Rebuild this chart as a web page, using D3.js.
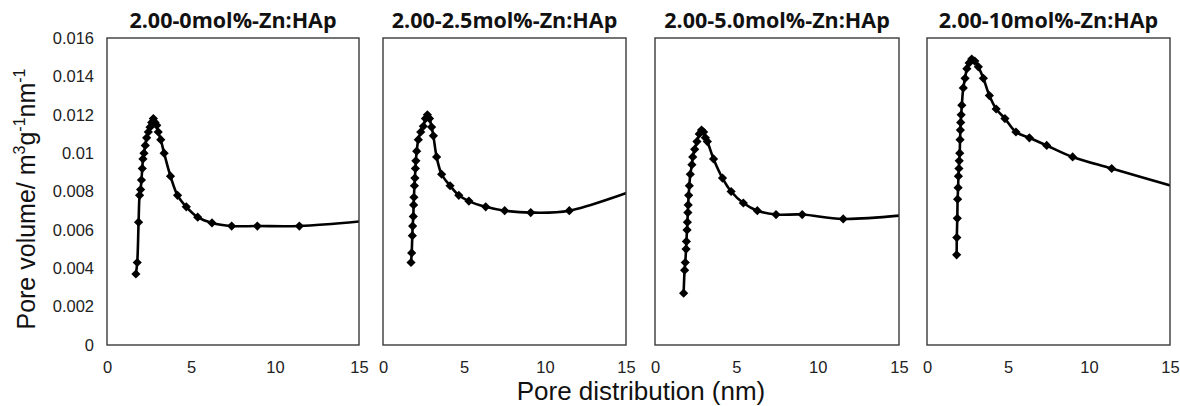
<!DOCTYPE html>
<html>
<head>
<meta charset="utf-8">
<script src="https://cdn.jsdelivr.net/npm/d3@7"></script>
<style>
  html, body { margin: 0; padding: 0; background: #fff; }
  svg { display: block; }
</style>
</head>
<body>
<svg id="chart" width="1180" height="406"></svg>
<script>
// ---------------- DATA ----------------
const panelTitles = ["2.00-0mol%-Zn:HAp", "2.00-2.5mol%-Zn:HAp", "2.00-5.0mol%-Zn:HAp", "2.00-10mol%-Zn:HAp"];

const xTicks = [0, 5, 10, 15];
const yTicks = [0, 0.002, 0.004, 0.006, 0.008, 0.01, 0.012, 0.014, 0.016];
const yTickLabels = ["0", "0.002", "0.004", "0.006", "0.008", "0.01", "0.012", "0.014", "0.016"];

const x0 = [1.72, 1.80, 1.88, 1.94, 2.00, 2.05, 2.10, 2.14, 2.20, 2.28, 2.36, 2.46, 2.56, 2.66, 2.76, 2.86, 2.96, 3.05, 3.20, 3.40, 3.78, 4.20, 4.72, 5.40, 6.25, 7.42, 8.95, 11.45, 15.8];
const y0 = [0.0037, 0.0043, 0.0064, 0.0078, 0.0081, 0.0086, 0.0092, 0.0097, 0.0100, 0.0104, 0.0108, 0.0111, 0.01135, 0.0116, 0.0118, 0.0116, 0.01145, 0.0111, 0.0107, 0.0100, 0.0088, 0.0078, 0.0072, 0.00666, 0.00636, 0.0062, 0.0062, 0.0062, 0.0065];

const x25 = [1.73, 1.77, 1.81, 1.83, 1.87, 1.89, 1.91, 1.94, 1.97, 2.00, 2.03, 2.08, 2.18, 2.33, 2.49, 2.62, 2.74, 2.87, 3.00, 3.11, 3.31, 3.62, 4.14, 4.68, 5.30, 6.34, 7.51, 9.12, 11.5, 15.6];
const y25 = [0.0043, 0.0048, 0.0057, 0.0062, 0.0067, 0.0073, 0.0077, 0.0083, 0.0087, 0.0092, 0.0096, 0.0101, 0.0107, 0.0111, 0.0114, 0.0118, 0.0120, 0.0118, 0.01136, 0.0109, 0.0098, 0.0089, 0.0083, 0.0078, 0.0075, 0.0072, 0.0070, 0.0069, 0.0070, 0.0081];

const x50 = [1.76, 1.82, 1.86, 1.91, 1.93, 1.97, 1.99, 2.02, 2.04, 2.07, 2.11, 2.17, 2.27, 2.32, 2.44, 2.58, 2.72, 2.86, 2.99, 3.10, 3.22, 3.60, 4.15, 4.68, 5.43, 6.29, 7.44, 9.05, 11.57, 15.7];
const y50 = [0.0027, 0.0039, 0.0043, 0.0050, 0.0054, 0.0060, 0.0064, 0.0069, 0.0073, 0.0078, 0.0083, 0.0089, 0.0094, 0.0098, 0.0102, 0.0106, 0.0110, 0.0112, 0.0111, 0.0108, 0.0106, 0.0097, 0.0087, 0.0080, 0.0074, 0.0070, 0.0068, 0.0068, 0.00657, 0.0068];

const x100 = [1.83, 1.84, 1.87, 1.89, 1.92, 1.94, 1.97, 1.99, 2.02, 2.04, 2.06, 2.08, 2.11, 2.15, 2.24, 2.35, 2.46, 2.60, 2.76, 2.95, 3.17, 3.48, 3.85, 4.27, 4.81, 5.49, 6.32, 7.39, 8.99, 11.4, 15.5];
const y100 = [0.0047, 0.0056, 0.0066, 0.0076, 0.0082, 0.0088, 0.0092, 0.0096, 0.0100, 0.0107, 0.0112, 0.0116, 0.0120, 0.0125, 0.0134, 0.0139, 0.0144, 0.0147, 0.0149, 0.0148, 0.0145, 0.0139, 0.0130, 0.0123, 0.0118, 0.0111, 0.0108, 0.0104, 0.0098, 0.0092, 0.0082];

const seriesX = [x0, x25, x50, x100];
const seriesY = [y0, y25, y50, y100];

const yAxisTitle = "Pore volume/ m";
const xAxisTitle = "Pore distribution (nm)";

// ---------------- LAYOUT ----------------
const svg = d3.select("#chart");
const panelBox = [
  {l: 107, r: 359},
  {l: 383, r: 626},
  {l: 655, r: 899},
  {l: 927, r: 1170}
];
const plotTop = 38, plotBottom = 345;
const tickFont = "'Liberation Sans', Arial, sans-serif";

const y = d3.scaleLinear().domain([0, 0.016]).range([plotBottom, plotTop]);

// Y axis (only left panel)
const yAxis = d3.axisLeft(y).tickValues(yTicks).tickSize(0).tickPadding(13)
  .tickFormat((d, i) => yTickLabels[i]);
const yg = svg.append("g").attr("transform", `translate(${panelBox[0].l},0)`).call(yAxis);
yg.select(".domain").remove();
yg.selectAll("text").attr("font-family", tickFont).attr("font-size", 16.5).attr("fill", "#222");

const diamond = "M0,-4.6L4.6,0L0,4.6L-4.6,0Z";

panelBox.forEach((b, i) => {
  const x = d3.scaleLinear().domain([0, 15]).range([b.l, b.r]);
  const g = svg.append("g");

  // x axis labels
  const xAxis = d3.axisBottom(x).tickValues(xTicks).tickSize(0).tickPadding(16).tickFormat(d3.format("d"));
  const xg = g.append("g").attr("transform", `translate(0,${plotBottom})`).call(xAxis);
  xg.select(".domain").remove();
  xg.selectAll("text").attr("font-family", tickFont).attr("font-size", 16.5).attr("fill", "#222");

  // clip
  const cid = "clip" + i;
  svg.append("clipPath").attr("id", cid).append("rect")
    .attr("x", b.l).attr("y", plotTop).attr("width", b.r - b.l).attr("height", plotBottom - plotTop);

  const pts = seriesX[i].map((xv, k) => [xv, seriesY[i][k]]);
  const line = d3.line().x(d => x(d[0])).y(d => y(d[1])).curve(d3.curveCatmullRom.alpha(0.5));

  const plot = g.append("g").attr("clip-path", `url(#${cid})`);
  plot.append("path").datum(pts).attr("d", line)
    .attr("fill", "none").attr("stroke", "#000").attr("stroke-width", 2.6);
  plot.selectAll("path.m").data(pts).enter().append("path").attr("class", "m")
    .attr("d", diamond)
    .attr("transform", d => `translate(${x(d[0])},${y(d[1])})`)
    .attr("fill", "#000");

  // frame
  g.append("rect").attr("x", b.l).attr("y", plotTop).attr("width", b.r - b.l).attr("height", plotBottom - plotTop)
    .attr("fill", "none").attr("stroke", "#3a3a3a").attr("stroke-width", 1.4);

  // title
  g.append("text").attr("x", (b.l + b.r) / 2).attr("y", 28)
    .attr("text-anchor", "middle")
    .attr("font-family", "'Open Sans', sans-serif").attr("font-weight", "bold").attr("font-size", 21.5)
    .attr("fill", "#111")
    .text(panelTitles[i]);
});

// Y axis title with superscripts
const yt = svg.append("text")
  .attr("transform", "translate(35,199) rotate(-90)")
  .attr("text-anchor", "middle")
  .attr("font-family", tickFont).attr("font-size", 25).attr("fill", "#111");
yt.append("tspan").text(yAxisTitle);
yt.append("tspan").attr("dy", -10).attr("font-size", 16).text("3");
yt.append("tspan").attr("dy", 10).text("g");
yt.append("tspan").attr("dy", -10).attr("font-size", 16).text("-1");
yt.append("tspan").attr("dy", 10).text("nm");
yt.append("tspan").attr("dy", -10).attr("font-size", 16).text("-1");

// X axis title
svg.append("text").attr("x", 641).attr("y", 400).attr("text-anchor", "middle")
  .attr("font-family", tickFont).attr("font-size", 26).attr("fill", "#111")
  .text(xAxisTitle);
</script>
</body>
</html>
